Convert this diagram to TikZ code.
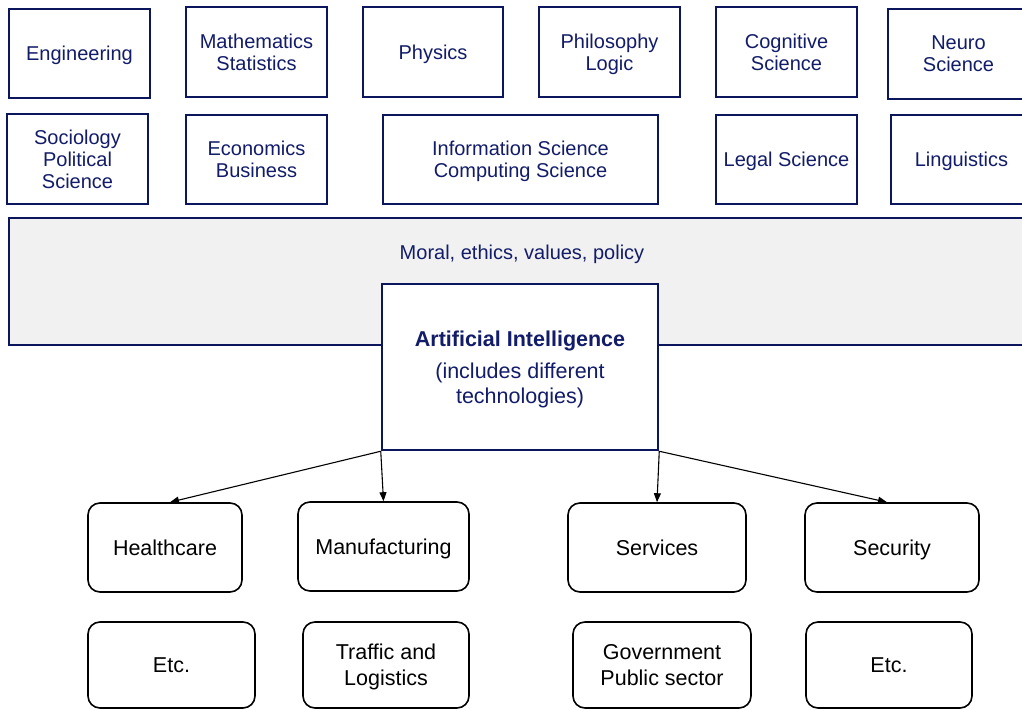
\documentclass[tikz,border=0pt]{standalone}
\usepackage{fontspec}
\setmainfont{Liberation Sans}
\usetikzlibrary{arrows.meta,calc}
\definecolor{navy}{RGB}{12,22,92}
\definecolor{navytext}{RGB}{18,28,105}
\definecolor{bandgray}{RGB}{241,241,241}
\tikzset{
  navybox/.style={draw=navy, line width=2.5pt, fill=white, align=center, text=navytext,
    inner sep=0pt, text depth=0pt, font=\fontsize{20}{22}\selectfont},
  appbox/.style={draw=black, line width=1.6pt, rounded corners=12pt, fill=white, align=center,
    text=black, inner sep=0pt, text depth=0pt, font=\fontsize{21.5}{26}\selectfont},
  arr/.style={draw=black, line width=1.1pt, -{Triangle[length=9pt,width=7pt]}}
}
\begin{document}
\begin{tikzpicture}[x=1pt,y=-1pt]
\useasboundingbox (0,0) rectangle (1022,709);
\clip (0,0) rectangle (1022,709);
% top row
\node[navybox, minimum width=141pt, minimum height=89pt] (eng) at (79.5,53.5) {Engineering};
\node[navybox, minimum width=141pt, minimum height=90pt] (math) at (256.5,52) {Mathematics\\Statistics};
\node[navybox, minimum width=140pt, minimum height=90pt] (phys) at (433,52) {Physics};
\node[navybox, minimum width=141pt, minimum height=90pt] (phil) at (609.5,52) {Philosophy\\Logic};
\node[navybox, minimum width=141pt, minimum height=90pt] (cog) at (786.5,52) {Cognitive\\Science};
\node[navybox, minimum width=141pt, minimum height=90pt] (neuro) at (958.5,54) {Neuro\\Science};
% second row
\node[navybox, minimum width=141pt, minimum height=90pt] (soc) at (77.5,159) {Sociology\\Political\\Science};
\node[navybox, minimum width=141pt, minimum height=89pt] (eco) at (256.5,159.5) {Economics\\Business};
\node[navybox, minimum width=275pt, minimum height=89pt] (info) at (520.5,159.5) {Information Science\\Computing Science};
\node[navybox, minimum width=141pt, minimum height=89pt] (legal) at (786.5,159.5) {Legal Science};
\node[navybox, minimum width=141pt, minimum height=89pt] (ling) at (961.5,159.5) {Linguistics};
% band
\node[navybox, fill=bandgray, minimum width=1031pt, minimum height=127pt] (band) at (524.5,281.5) {};
\node[text=navytext, font=\fontsize{20}{22}\selectfont, inner sep=0pt, text depth=0pt] (moral) at (522,252) {Moral, ethics, values, policy};
% AI box
\node[navybox, minimum width=276pt, minimum height=166pt, font=\fontsize{21.5}{25}\selectfont] (ai) at (520,367)
  {\textbf{Artificial Intelligence}\\[7pt](includes different\\technologies)};
% application boxes
\node[appbox, minimum width=154pt, minimum height=89pt] (hc) at (165,547.5) {Healthcare};
\node[appbox, minimum width=171pt, minimum height=89pt] (man) at (383.5,546.5) {Manufacturing};
\node[appbox, minimum width=178pt, minimum height=89pt] (serv) at (657,547.5) {Services};
\node[appbox, minimum width=174pt, minimum height=89pt] (sec) at (892,547.5) {Security};
\node[appbox, minimum width=167pt, minimum height=86pt] (etc1) at (171.5,665) {Etc.};
\node[appbox, minimum width=166pt, minimum height=86pt] (traf) at (386,665) {Traffic and\\Logistics};
\node[appbox, minimum width=178pt, minimum height=86pt] (gov) at (662,665) {Government\\Public sector};
\node[appbox, minimum width=166pt, minimum height=86pt] (etc2) at (889,665) {Etc.};
% arrows
\draw[arr] (ai.south west) -- ($(hc.north)+(5,0)$);
\draw[arr] (ai.south west) -- (man.north);
\draw[arr] (ai.south east) -- (serv.north);
\draw[arr] (ai.south east) -- ($(sec.north)+(-5,0)$);
\end{tikzpicture}
\end{document}
